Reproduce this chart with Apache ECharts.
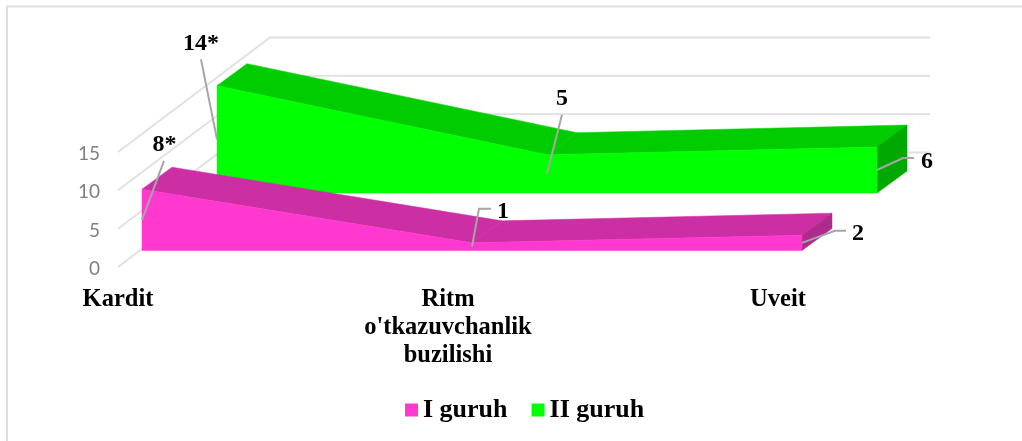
<!DOCTYPE html>
<html>
<head>
<meta charset="utf-8">
<script src="https://cdn.jsdelivr.net/npm/echarts@6/dist/echarts.min.js"></script>
<style>
	html,body{margin:0;padding:0;background:#fff;}
	#chart{width:1022px;height:441px;}
</style>
</head>
<body>
<div id="chart"></div>
<script>
	var categories = ["Kardit", "Ritm\no'tkazuvchanlik\nbuzilishi", "Uveit"];
	var guruh1 = [8, 1, 2];
	var guruh2 = [14, 5, 6];
	var guruh1Labels = ["8*", "1", "2"];
	var guruh2Labels = ["14*", "5", "6"];
	var yTicks = [0, 5, 10, 15];

	var serif = "'Liberation Serif', 'Times New Roman', serif";
	//3D ko'rinish uchun siljishlar (piksel)
	var depth = [30, -22];
	var backWall = [152, -114.5];
	var offset1 = [24, -16.5];
	var offset2 = [99, -74];

	function move(p, d) {
		return [p[0] + d[0], p[1] + d[1]];
	}
	function poly(points, color, z2) {
		return {
			type: "polygon",
			z2: z2,
			shape: { points: points },
			style: { fill: color, stroke: color, lineWidth: 0.5 }
		};
	}
	function leader(points) {
		return {
			type: "polyline",
			z2: 20,
			shape: { points: points },
			style: { fill: null, stroke: "#a6a6a6", lineWidth: 2 }
		};
	}
	function word(text, p) {
		return {
			type: "text",
			z2: 21,
			style: {
				text: text, x: p[0], y: p[1], fill: "#000",
				font: "bold 24px " + serif, align: "center", verticalAlign: "middle"
			}
		};
	}

	//lenta: old tomon, ust tomon, o'ng tomon va izohlar
	function ribbon(values, labels, off, colors, labelPos, bends) {
		return function (params, api) {
			var i = params.dataIndex;
			var children = [];
			var top = move(api.coord([i, values[i]]), off);
			var base = move(api.coord([i, 0]), off);
			if (i > 0) {
				var prevTop = move(api.coord([i - 1, values[i - 1]]), off);
				var prevBase = move(api.coord([i - 1, 0]), off);
				children.push(poly([prevTop, top, move(top, depth), move(prevTop, depth)], colors[1], 1));
				children.push(poly([prevTop, top, base, prevBase], colors[0], 2));
			}
			if (i === values.length - 1) {
				children.push(poly([top, move(top, depth), move(base, depth), base], colors[2], 1));
			}
			var anchor = move(api.coord([i, values[i] / 2]), off);
			var line = [anchor].concat(bends[i].map(function (b) { return move(anchor, b); }));
			children.push(leader(line));
			children.push(word(labels[i], move(anchor, labelPos[i])));
			return { type: "group", children: children };
		};
	}

	function walls(params, api) {
		var t = yTicks[params.dataIndex];
		var front = api.coord([0, t]);
		var back = move(front, backWall);
		var end = move(api.coord([categories.length - 1, t]), backWall);
		return {
			type: "polyline",
			shape: { points: [front, back, end] },
			style: { fill: null, stroke: "#e0e0e0", lineWidth: 1.8 }
		};
	}

	var myChart = echarts.init(document.getElementById("chart"));
	var option = {
		animation: false,
		backgroundColor: "#fff",
		graphic: [{
			type: "rect",
			silent: true,
			shape: { x: 7, y: 6.5, width: 1100, height: 500 },
			style: { fill: null, stroke: "#dedede", lineWidth: 2 }
		}],
		grid: { left: 118, right: 244, top: 152, bottom: 174 },
		legend: {
			left: 400,
			top: 392,
			icon: "rect",
			itemWidth: 13,
			itemHeight: 13,
			itemGap: 24,
			textStyle: { fontFamily: serif, fontWeight: "bold", fontSize: 26, color: "#000" },
			data: ["I guruh", "II guruh"]
		},
		xAxis: {
			type: "category",
			boundaryGap: false,
			data: categories,
			axisLine: { show: false },
			axisTick: { show: false },
			axisLabel: {
				interval: 0, margin: 18.5, fontFamily: serif, fontWeight: "bold",
				fontSize: 24.5, lineHeight: 28, color: "#000"
			}
		},
		yAxis: {
			type: "value",
			min: 0,
			max: 15,
			interval: 5,
			axisLine: { show: false },
			axisTick: { show: false },
			splitLine: { show: false },
			axisLabel: {
				margin: 18,
				formatter: "{v|{value}}",
				rich: { v: { fontFamily: "Lato", fontSize: 19, color: "#7f7f7f", padding: [4, 0, 0, 0] } }
			}
		},
		series: [
			{
				type: "custom",
				name: "walls",
				z: 1,
				silent: true,
				data: yTicks,
				renderItem: walls
			},
			{
				type: "custom",
				name: "II guruh",
				z: 2,
				itemStyle: { color: "#00ff00" },
				data: guruh2,
				renderItem: ribbon(guruh2, guruh2Labels, offset2, ["#00ff00", "#00cc00", "#00a800"],
					[[-16, -96], [15, -75], [50, -8]],
					[[[-16, -80]], [[15, -59]], [[26, -12], [37, -12]]])
			},
			{
				type: "custom",
				name: "I guruh",
				z: 3,
				itemStyle: { color: "#ff39d0" },
				data: guruh1,
				renderItem: ribbon(guruh1, guruh1Labels, offset1, ["#ff39d0", "#cc2ea3", "#ae2a8c"],
					[[22.5, -75], [31, -35], [56, -9]],
					[[[22, -59]], [[7, -38], [19, -38]], [[33, -12], [44, -12]]])
			}
		]
	};
	myChart.setOption(option);
</script>
</body>
</html>
